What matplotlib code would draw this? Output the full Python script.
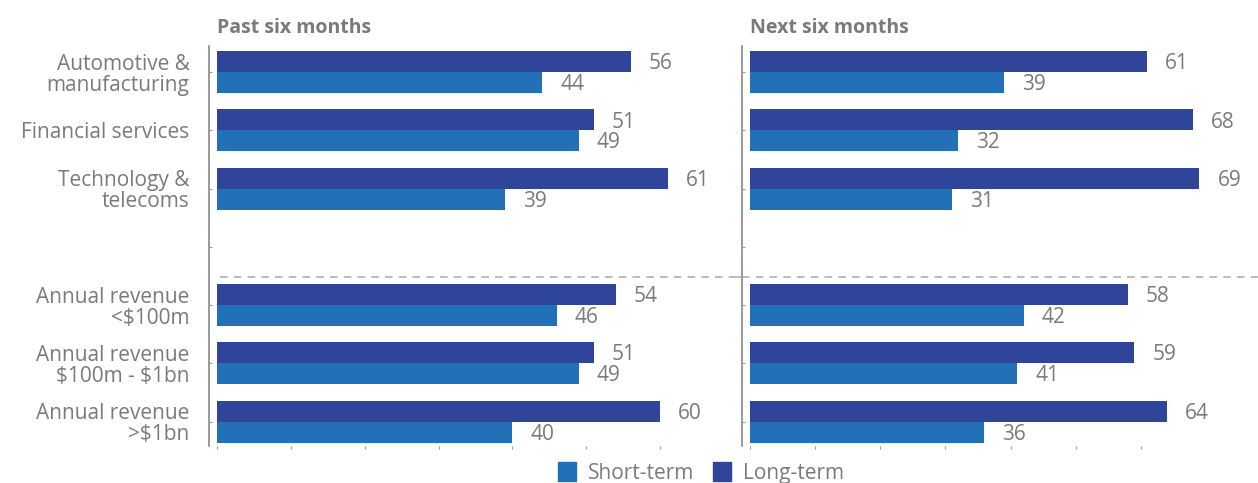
import matplotlib
matplotlib.use('Agg')
import matplotlib.pyplot as plt
import numpy as np
from matplotlib.patches import Patch

plt.rcParams['font.family'] = ['Open Sans', 'DejaVu Sans']
plt.rcParams['text.parse_math'] = False

categories = ['Automotive &\nmanufacturing', 'Financial services', 'Technology &\ntelecoms', '',
              'Annual revenue\n<$100m', 'Annual revenue\n$100m - $1bn', 'Annual revenue\n>$1bn']
past_long = [56, 51, 61, None, 54, 51, 60]
past_short = [44, 49, 39, None, 46, 49, 40]
next_long = [61, 68, 69, None, 58, 59, 64]
next_short = [39, 32, 31, None, 42, 41, 36]
titles = ['Past six months', 'Next six months']

dark = '#2e4599'
light = '#2270b8'
grey = '#7a7a7a'

W, H = 1258, 483
fig = plt.figure(figsize=(W / 100, H / 100), dpi=100)

# axes boxes in pixels: (spine x, right x, xmin, xmax)
top_px, bot_px = 46, 446
panels = [(209, 734, -1.08, 70), (742, 1258, -1.23, 78)]

y = np.arange(len(categories))
bh = 0.36
axes = []
for i, (x0, x1, xmin, xmax) in enumerate(panels):
    ax = fig.add_axes([x0 / W, 1 - bot_px / H, (x1 - x0) / W, (bot_px - top_px) / H])
    longs = past_long if i == 0 else next_long
    shorts = past_short if i == 0 else next_short
    for j in range(len(categories)):
        if longs[j] is None:
            continue
        ax.barh(y[j] - bh / 2, longs[j], height=bh, color=dark)
        ax.barh(y[j] + bh / 2, shorts[j], height=bh, color=light)
        ax.annotate(str(longs[j]), (longs[j], y[j] - bh / 2), xytext=(13, -1.5),
                    textcoords='offset points', va='center', ha='left',
                    fontsize=15, color=grey)
        ax.annotate(str(shorts[j]), (shorts[j], y[j] + bh / 2), xytext=(13, -1.5),
                    textcoords='offset points', va='center', ha='left',
                    fontsize=15, color=grey)
    ax.set_xlim(xmin, xmax)
    ax.set_ylim(6.42, -0.45)
    for s in ['top', 'right', 'bottom']:
        ax.spines[s].set_visible(False)
    ax.spines['left'].set_color('#888888')
    ax.spines['left'].set_linewidth(1.2)
    ax.set_xticks(np.arange(0, 70, 10))
    ax.tick_params(axis='x', length=2, color='#999999', labelbottom=False, width=0.8)
    ax.set_yticks(y)
    if i == 0:
        ax.set_yticklabels(categories, fontsize=15, color=grey, linespacing=1.02)
        ax.tick_params(axis='y', length=2, direction='in', color='#999999', pad=14)
    else:
        ax.tick_params(axis='y', length=2, direction='in', color='#999999', labelleft=False)
    ax.text(0, 1 + 18 / 400, titles[i], transform=ax.get_xaxis_transform(), fontsize=14,
            fontweight='bold', color=grey, ha='left', va='center')
    axes.append(ax)

# dashed separator across both panels
for ax in axes:
    ax.axhline(3.52, xmin=0.02 if ax is axes[0] else 0, xmax=1, color='#aaaaaa',
               linestyle=(0, (5, 4)), linewidth=1.1, clip_on=False)
# fill the gap between panels
fig.add_artist(plt.Line2D([734 / W, 742 / W], [1 - 277 / H, 1 - 277 / H], color='#aaaaaa',
                          linestyle=(0, (5, 4)), linewidth=1.1))

handles = [Patch(color=light, label='Short-term'), Patch(color=dark, label='Long-term')]
fig.legend(handles=handles, loc='center', bbox_to_anchor=(701 / W, 1 - 473 / H), ncol=2,
           frameon=False, fontsize=15, labelcolor=grey, handlelength=0.85, handleheight=1.0,
           handletextpad=0.6, columnspacing=0.9)

fig.savefig('out.png', dpi=100)
